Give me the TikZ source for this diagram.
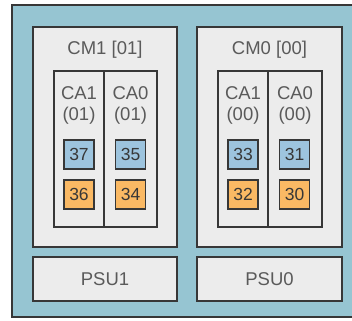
\documentclass[tikz,border=0pt]{standalone}
\usepackage{fontspec}
\setmainfont{Liberation Sans}
\definecolor{chassis}{RGB}{150,197,210}
\definecolor{panel}{RGB}{236,236,236}
\definecolor{edge}{RGB}{55,55,55}
\definecolor{labelgray}{RGB}{90,90,90}
\definecolor{cpublue}{RGB}{157,196,222}
\definecolor{memorange}{RGB}{250,185,100}
\tikzset{
  x=1pt, y=-1pt,
  box/.style={draw=edge, line width=1.2pt, fill=panel, inner sep=0pt},
  lbl/.style={text=labelgray, font=\fontsize{18.5}{20}\selectfont, inner sep=0pt},
  chip/.style={draw=edge, line width=1.2pt, minimum width=30pt, minimum height=29pt,
    inner sep=0pt, text=edge, font=\fontsize{17.5}{19}\selectfont},
  cpu/.style={chip, fill=cpublue},
  mem/.style={chip, fill=memorange},
}
\begin{document}
\begin{tikzpicture}
\useasboundingbox (0,0) rectangle (352,320);
\begin{scope}
  \clip (0,0) rectangle (352,320);
  % chassis
  \draw[draw=edge, line width=1.2pt, fill=chassis] (12,5) rectangle (370,317);
\end{scope}

% CPU/memory modules
\node[box, minimum width=144pt, minimum height=220pt] (cm1) at (105,137) {};
\node[box, minimum width=145pt, minimum height=220pt] (cm0) at (269.5,137) {};
\node[lbl] (cm1lbl) at (105,50) {CM1 [01]};
\node[lbl] (cm0lbl) at (269.5,50) {CM0 [00]};

% CPU assembly boards, CM1
\node[box, minimum width=50pt, minimum height=156pt] (cm1ca1) at (79,149) {};
\node[box, minimum width=53pt, minimum height=156pt] (cm1ca0) at (130.5,149) {};
\node[lbl] (cm1ca1a) at (79,93) {CA1};
\node[lbl] (cm1ca1b) at (79,116) {(01)};
\node[lbl] (cm1ca0a) at (130.5,93) {CA0};
\node[lbl] (cm1ca0b) at (130.5,116) {(01)};
\node[cpu] (c37) at (79,154.5) {37};
\node[mem] (c36) at (79,194.5) {36};
\node[cpu] (c35) at (130.5,154.5) {35};
\node[mem] (c34) at (130.5,194.5) {34};

% CPU assembly boards, CM0
\node[box, minimum width=50pt, minimum height=156pt] (cm0ca1) at (243,149) {};
\node[box, minimum width=54pt, minimum height=156pt] (cm0ca0) at (295,149) {};
\node[lbl] (cm0ca1a) at (243,93) {CA1};
\node[lbl] (cm0ca1b) at (243,116) {(00)};
\node[lbl] (cm0ca0a) at (295,93) {CA0};
\node[lbl] (cm0ca0b) at (295,116) {(00)};
\node[cpu] (c33) at (243,154.5) {33};
\node[mem] (c32) at (243,194.5) {32};
\node[cpu] (c31) at (294.5,154.5) {31};
\node[mem] (c30) at (294.5,194.5) {30};

% power supplies
\node[box, minimum width=144pt, minimum height=44pt] (psu1) at (105,279) {};
\node[box, minimum width=145pt, minimum height=44pt] (psu0) at (269.5,279) {};
\node[lbl] (psu1lbl) at (105,279) {PSU1};
\node[lbl] (psu0lbl) at (269.5,279) {PSU0};
\end{tikzpicture}
\end{document}
